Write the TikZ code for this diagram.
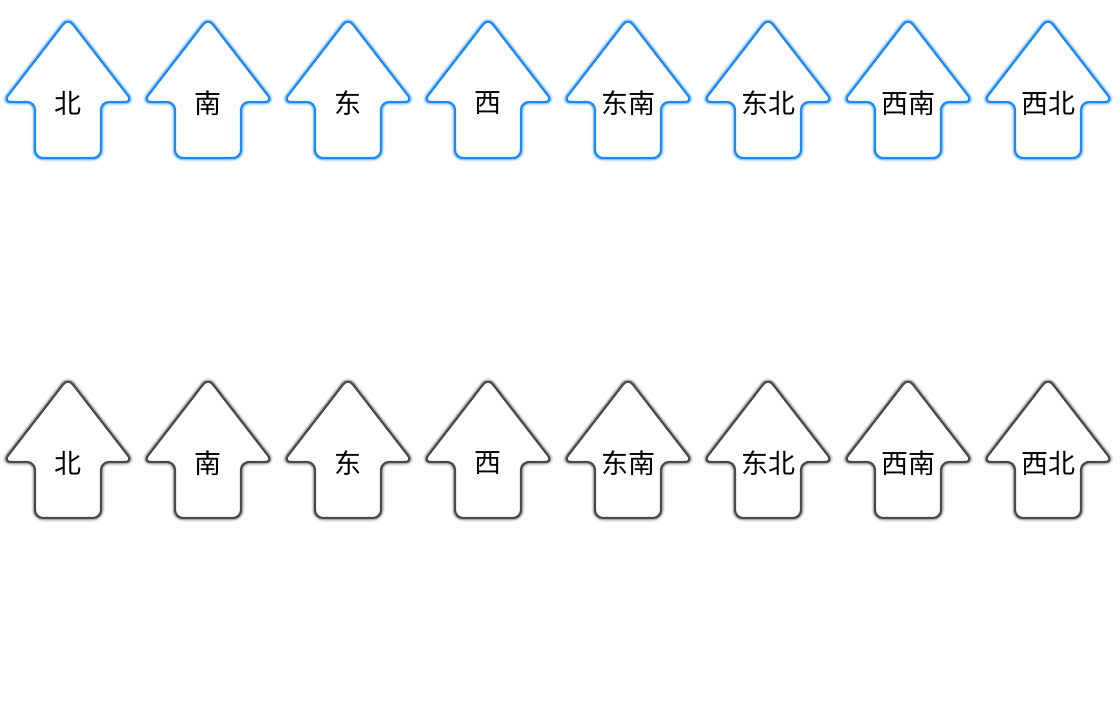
\documentclass[tikz,border=0pt]{standalone}
\usepackage{fontspec}
\newfontfamily\cjk{Noto Sans CJK SC}
\definecolor{arrowblue}{HTML}{1E88F5}
\definecolor{arrowgray}{HTML}{4A4A4A}
\tikzset{
  arrowoutline/.style={line width=2.2pt, rounded corners=8pt, line join=round},
  glowa/.style={line width=7pt, opacity=0.15, rounded corners=8pt, line join=round},
  glowb/.style={line width=4.5pt, opacity=0.3, rounded corners=8pt, line join=round},
  arrowlabel/.style={font=\cjk\fontsize{27}{32}\selectfont, inner sep=0pt, text=black},
}
\newcommand\arrowoutlinepath[2]{%
  (#1,#2-85) -- (#1+65,#2-1) -- (#1+33,#2-1) -- (#1+33,#2+55) --
  (#1-33,#2+55) -- (#1-33,#2-1) -- (#1-65,#2-1) -- cycle}
\newcommand\myarrow[5]{%
  \draw[glowa, draw=#3] \arrowoutlinepath{#1}{#2};
  \draw[glowb, draw=#3] \arrowoutlinepath{#1}{#2};
  \draw[arrowoutline, draw=#3, fill=white] \arrowoutlinepath{#1}{#2};
  \node[arrowlabel] (#5) at (#1,#2) {#4};
}
\begin{document}
\begin{tikzpicture}[x=1pt,y=-1pt]
\useasboundingbox (0,0) rectangle (1120,720);
\foreach \lab [count=\i] in {北,南,东,西,东南,东北,西南,西北}{
  \pgfmathsetmacro\cx{68+140*(\i-1)}
  \myarrow{\cx}{103}{arrowblue}{\lab}{top\i}
  \myarrow{\cx}{463}{arrowgray}{\lab}{bot\i}
}
\end{tikzpicture}
\end{document}
